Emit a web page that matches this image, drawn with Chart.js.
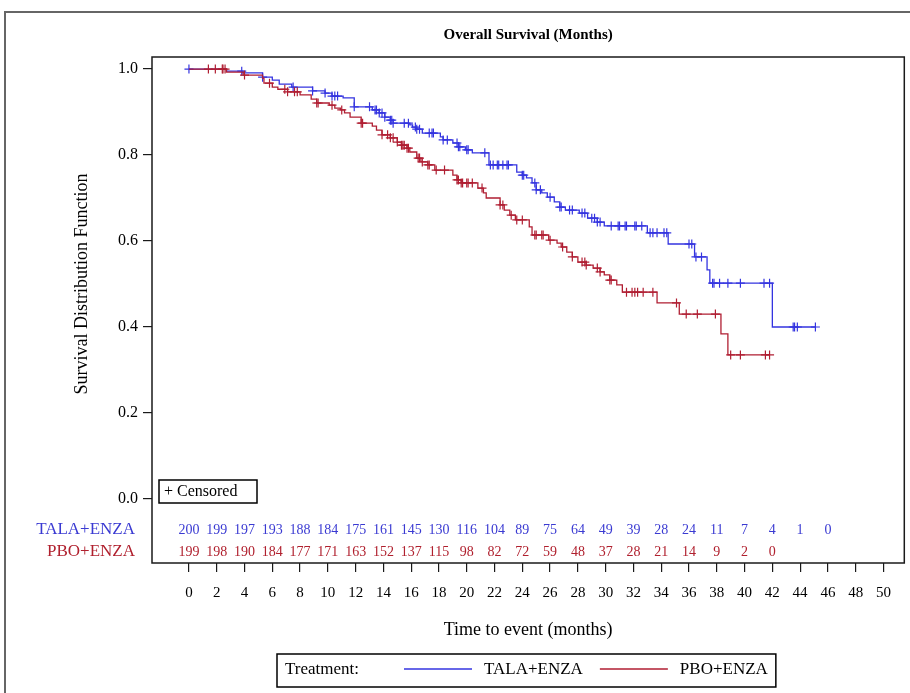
<!DOCTYPE html>
<html>
<head>
<meta charset="utf-8">
<title>Overall Survival</title>
<script src="https://cdn.jsdelivr.net/npm/chart.js@4.4.1/dist/chart.umd.min.js"></script>
<style>
  html, body { margin: 0; padding: 0; background: #fff; }
  #frame { position: absolute; left: 4px; top: 11px; width: 930px; height: 720px; border: 2px solid #666; box-sizing: border-box; }
  #survChart { position: absolute; left: 0; top: 0; }
</style>
</head>
<body>
<div id="frame"></div>
<canvas id="survChart" width="910" height="693"></canvas>
<script>
//################# Data #################
const chartTitle = 'Overall Survival (Months)';
const xTitle = 'Time to event (months)';
const yTitle = 'Survival Distribution Function';
const treatments = ['TALA+ENZA', 'PBO+ENZA'];

// Kaplan-Meier steps: time of each drop and the survival after it
const talaTimes = [0, 2.7, 3.9, 5.3, 6.0, 6.5, 7.4, 8.9, 9.8, 10.3, 11.1, 11.9, 13.2, 13.7, 14.1, 14.5, 14.7, 15.9, 16.1, 16.4,
    16.8, 18.1, 18.3, 19.0, 19.4, 19.9, 20.4, 21.6, 23.6, 24.0, 24.3, 24.7, 25.0, 25.4, 25.8, 26.3, 26.7, 27.1, 28.1, 28.7,
    29.4, 29.9, 33.0, 34.5, 36.4, 37.3, 37.5, 42.0];
const talaSurv = [1.0, 0.995, 0.991, 0.981, 0.974, 0.965, 0.958, 0.949, 0.944, 0.937, 0.933, 0.912, 0.905, 0.898, 0.888, 0.881, 0.874, 0.870, 0.865, 0.860,
    0.851, 0.842, 0.835, 0.828, 0.819, 0.812, 0.805, 0.777, 0.760, 0.753, 0.747, 0.735, 0.719, 0.712, 0.702, 0.691, 0.679, 0.672, 0.665, 0.653,
    0.644, 0.635, 0.619, 0.593, 0.563, 0.533, 0.502, 0.400];
const talaEnd = 45.1;
const talaCensor = [0, 3.8, 5.3, 7.5, 8.9, 9.8, 10.3, 10.5, 10.7, 11.9, 13.0, 13.4, 13.5, 13.7, 13.9, 14.1, 14.5, 14.6, 14.7, 15.5,
    15.8, 16.3, 16.4, 16.6, 17.3, 17.5, 17.6, 18.3, 18.6, 19.3, 19.4, 19.5, 20.0, 20.1, 21.3, 21.7, 21.9, 22.2, 22.3, 22.6,
    22.9, 23.0, 24.0, 24.1, 24.9, 25.0, 25.3, 26.0, 26.7, 26.8, 27.4, 27.6, 28.3, 28.5, 29.0, 29.2, 29.4, 29.6, 30.4, 30.9,
    31.0, 31.4, 31.5, 32.1, 32.2, 32.6, 33.2, 33.4, 33.7, 34.2, 34.4, 36.0, 36.2, 36.5, 36.9, 37.7, 37.8, 38.2, 38.8, 39.7,
    41.4, 41.8, 43.5, 43.6, 43.8, 45.1];

const pboTimes = [0, 2.7, 3.9, 5.3, 5.4, 6.0, 6.4, 7.1, 8.0, 8.8, 9.2, 10.1, 10.5, 10.9, 11.2, 11.6, 12.4, 13.2, 13.5, 13.9,
    14.5, 15.0, 15.3, 15.7, 15.9, 16.4, 16.7, 17.2, 17.7, 19.0, 19.3, 19.6, 20.8, 21.2, 21.4, 22.4, 22.7, 23.1, 23.5, 24.5,
    24.7, 25.9, 26.5, 26.8, 27.2, 27.6, 28.0, 28.6, 29.1, 29.6, 29.9, 30.3, 30.8, 31.2, 33.7, 35.3, 38.3, 38.8];
const pboSurv = [1.0, 0.993, 0.986, 0.979, 0.967, 0.958, 0.953, 0.947, 0.940, 0.930, 0.921, 0.916, 0.909, 0.905, 0.898, 0.888, 0.874, 0.867, 0.858, 0.847,
    0.840, 0.830, 0.823, 0.816, 0.807, 0.793, 0.784, 0.777, 0.765, 0.753, 0.742, 0.735, 0.723, 0.712, 0.700, 0.684, 0.672, 0.660, 0.649, 0.633,
    0.614, 0.602, 0.595, 0.586, 0.574, 0.563, 0.551, 0.544, 0.537, 0.528, 0.521, 0.509, 0.498, 0.481, 0.456, 0.430, 0.384, 0.335];
const pboEnd = 41.8;
const pboCensor = [1.4, 1.9, 2.4, 2.45, 2.6, 4.0, 5.8, 6.9, 7.1, 7.6, 7.8, 9.2, 9.3, 10.3, 11.0, 12.4, 12.5, 13.9, 14.3, 14.5,
    14.7, 15.0, 15.3, 15.4, 15.5, 15.7, 15.8, 16.5, 16.6, 16.8, 17.2, 17.3, 17.8, 18.4, 19.3, 19.4, 19.6, 19.7, 20.0, 20.1,
    20.4, 21.1, 22.4, 22.6, 23.2, 23.6, 24.0, 24.9, 25.0, 25.4, 25.5, 26.0, 26.9, 27.6, 28.3, 28.5, 28.6, 29.4, 29.6, 30.3,
    30.4, 31.5, 31.9, 32.1, 32.3, 32.7, 33.4, 35.1, 35.8, 36.6, 37.9, 39.0, 39.7, 41.5, 41.8];

// numbers at risk
const atRiskTimes = [0, 2, 4, 6, 8, 10, 12, 14, 16, 18, 20, 22, 24, 26, 28, 30, 32, 34, 36, 38, 40, 42, 44, 46];
const talaAtRisk = [200, 199, 197, 193, 188, 184, 175, 161, 145, 130, 116, 104, 89, 75, 64, 49, 39, 28, 24, 11, 7, 4, 1, 0];
const pboAtRisk = [199, 198, 190, 184, 177, 171, 163, 152, 137, 115, 98, 82, 72, 59, 48, 37, 28, 21, 14, 9, 2, 0];

// tick labels
const xTicks = [0, 2, 4, 6, 8, 10, 12, 14, 16, 18, 20, 22, 24, 26, 28, 30, 32, 34, 36, 38, 40, 42, 44, 46, 48, 50];
const yTicks = [0, 0.2, 0.4, 0.6, 0.8, 1.0];

//################# Helpers #################
const BLUE = '#3434e0';
const RED = '#b01e32';
const BLUE_TEXT = '#3a3ad2';
const RED_TEXT = '#b0202e';
const SERIF = '"Liberation Serif", "DejaVu Serif", serif';

const stepPoints = (times, surv, end) => {
    const pts = times.map((t, i) => ({x: t, y: surv[i]}));
    pts.push({x: end, y: surv[surv.length - 1]});
    return pts;
};

const survAt = (times, surv, t) => {
    let s = surv[0];
    for (let i = 0; i < times.length; i++) {
        if (times[i] <= t) s = surv[i];
    }
    return s;
};

const censorPoints = (censor, times, surv) => censor.map(t => ({x: t, y: survAt(times, surv, t)}));

//################# Text, frame, risk table and legend #################
const overlayPlugin = {
    id: 'overlay',
    afterDraw(chart) {
        const {ctx, chartArea: a, scales: {x, y}} = chart;
        ctx.save();

        // plot frame
        ctx.strokeStyle = '#1a1a1a';
        ctx.lineWidth = 1.5;
        ctx.strokeRect(a.left, a.top, a.right - a.left, a.bottom - a.top);

        // title
        ctx.fillStyle = '#000';
        ctx.textAlign = 'center';
        ctx.textBaseline = 'middle';
        ctx.font = 'bold 15px ' + SERIF;
        ctx.fillText(chartTitle, (a.left + a.right) / 2, 35);

        // axis titles
        ctx.font = '18px ' + SERIF;
        ctx.fillText(xTitle, (a.left + a.right) / 2, 630);
        ctx.save();
        ctx.translate(82, y.getPixelForValue(0.5));
        ctx.rotate(-Math.PI / 2);
        ctx.fillText(yTitle, 0, 0);
        ctx.restore();

        // censored key
        ctx.lineWidth = 1.5;
        ctx.strokeStyle = '#000';
        ctx.strokeRect(a.left + 7, 480, 98, 23);
        ctx.textAlign = 'left';
        ctx.font = '16px ' + SERIF;
        ctx.fillText('+ Censored', a.left + 12, 492);

        // numbers at risk
        const rows = [
            {name: treatments[0], values: talaAtRisk, color: BLUE_TEXT, py: 530},
            {name: treatments[1], values: pboAtRisk, color: RED_TEXT, py: 552},
        ];
        rows.forEach(row => {
            ctx.fillStyle = row.color;
            ctx.textAlign = 'right';
            ctx.font = '17px ' + SERIF;
            ctx.fillText(row.name, 135, row.py);
            ctx.textAlign = 'center';
            ctx.font = '14px ' + SERIF;
            row.values.forEach((v, i) => {
                ctx.fillText(String(v), x.getPixelForValue(atRiskTimes[i]), row.py);
            });
        });

        // legend
        const ly = 670;
        ctx.font = '17px ' + SERIF;
        ctx.textAlign = 'left';
        ctx.fillStyle = '#000';
        let cx = 285;
        ctx.fillText('Treatment:', cx, ly);
        cx = 404;
        [[BLUE, treatments[0]], [RED, treatments[1]]].forEach(([col, name]) => {
            ctx.strokeStyle = col;
            ctx.lineWidth = 1.3;
            ctx.beginPath();
            ctx.moveTo(cx, ly - 1);
            ctx.lineTo(cx + 68, ly - 1);
            ctx.stroke();
            cx += 80;
            ctx.fillStyle = '#000';
            ctx.fillText(name, cx, ly);
            cx += ctx.measureText(name).width + 17;
        });
        ctx.strokeStyle = '#000';
        ctx.lineWidth = 1.5;
        ctx.strokeRect(277, 654, cx - 277 - 9, 33);

        ctx.restore();
    }
};

//################# Chart #################
const createChart = () => {
    // 'before' in Chart.js = stay level until the next time, then drop
    const lineBase = {type: 'line', stepped: 'before', pointRadius: 0, borderWidth: 1.3, fill: false};
    const censorBase = {type: 'line', showLine: false, pointStyle: 'cross', pointRadius: 4.5, pointBorderWidth: 1.2};

    new Chart(document.getElementById('survChart'), {
        type: 'line',
        data: {
            datasets: [
                {...lineBase, label: treatments[0], data: stepPoints(talaTimes, talaSurv, talaEnd), borderColor: BLUE, order: 2},
                {...censorBase, label: treatments[0] + ' censored', data: censorPoints(talaCensor, talaTimes, talaSurv), borderColor: BLUE, pointBorderColor: BLUE, order: 2},
                {...lineBase, label: treatments[1], data: stepPoints(pboTimes, pboSurv, pboEnd), borderColor: RED, order: 1},
                {...censorBase, label: treatments[1] + ' censored', data: censorPoints(pboCensor, pboTimes, pboSurv), borderColor: RED, pointBorderColor: RED, order: 1},
            ],
        },
        options: {
            responsive: false,
            animation: false,
            events: [],
            layout: {padding: {top: 57, right: 5, left: 0, bottom: 0}},
            plugins: {legend: {display: false}, tooltip: {enabled: false}, title: {display: false}},
            scales: {
                x: {
                    type: 'linear',
                    min: -2.66,
                    max: 51.5,
                    afterBuildTicks: scale => { scale.ticks = xTicks.map(v => ({value: v})); },
                    afterFit: scale => { scale.height = 130; },
                    grid: {drawOnChartArea: false, drawTicks: true, tickLength: 9, color: '#1a1a1a', lineWidth: 1.2},
                    border: {display: false},
                    ticks: {font: {family: SERIF, size: 15}, color: '#000', padding: 12, maxRotation: 0, autoSkip: false},
                },
                y: {
                    type: 'linear',
                    min: -0.149,
                    max: 1.028,
                    afterBuildTicks: scale => { scale.ticks = yTicks.map(v => ({value: v})); },
                    afterFit: scale => { scale.width = 152; },
                    grid: {drawOnChartArea: false, drawTicks: true, tickLength: 9, color: '#1a1a1a', lineWidth: 1.2},
                    border: {display: false},
                    ticks: {font: {family: SERIF, size: 16}, color: '#000', padding: 5, callback: v => v.toFixed(1)},
                },
            },
        },
        plugins: [overlayPlugin],
    });
};

createChart();
</script>
</body>
</html>
